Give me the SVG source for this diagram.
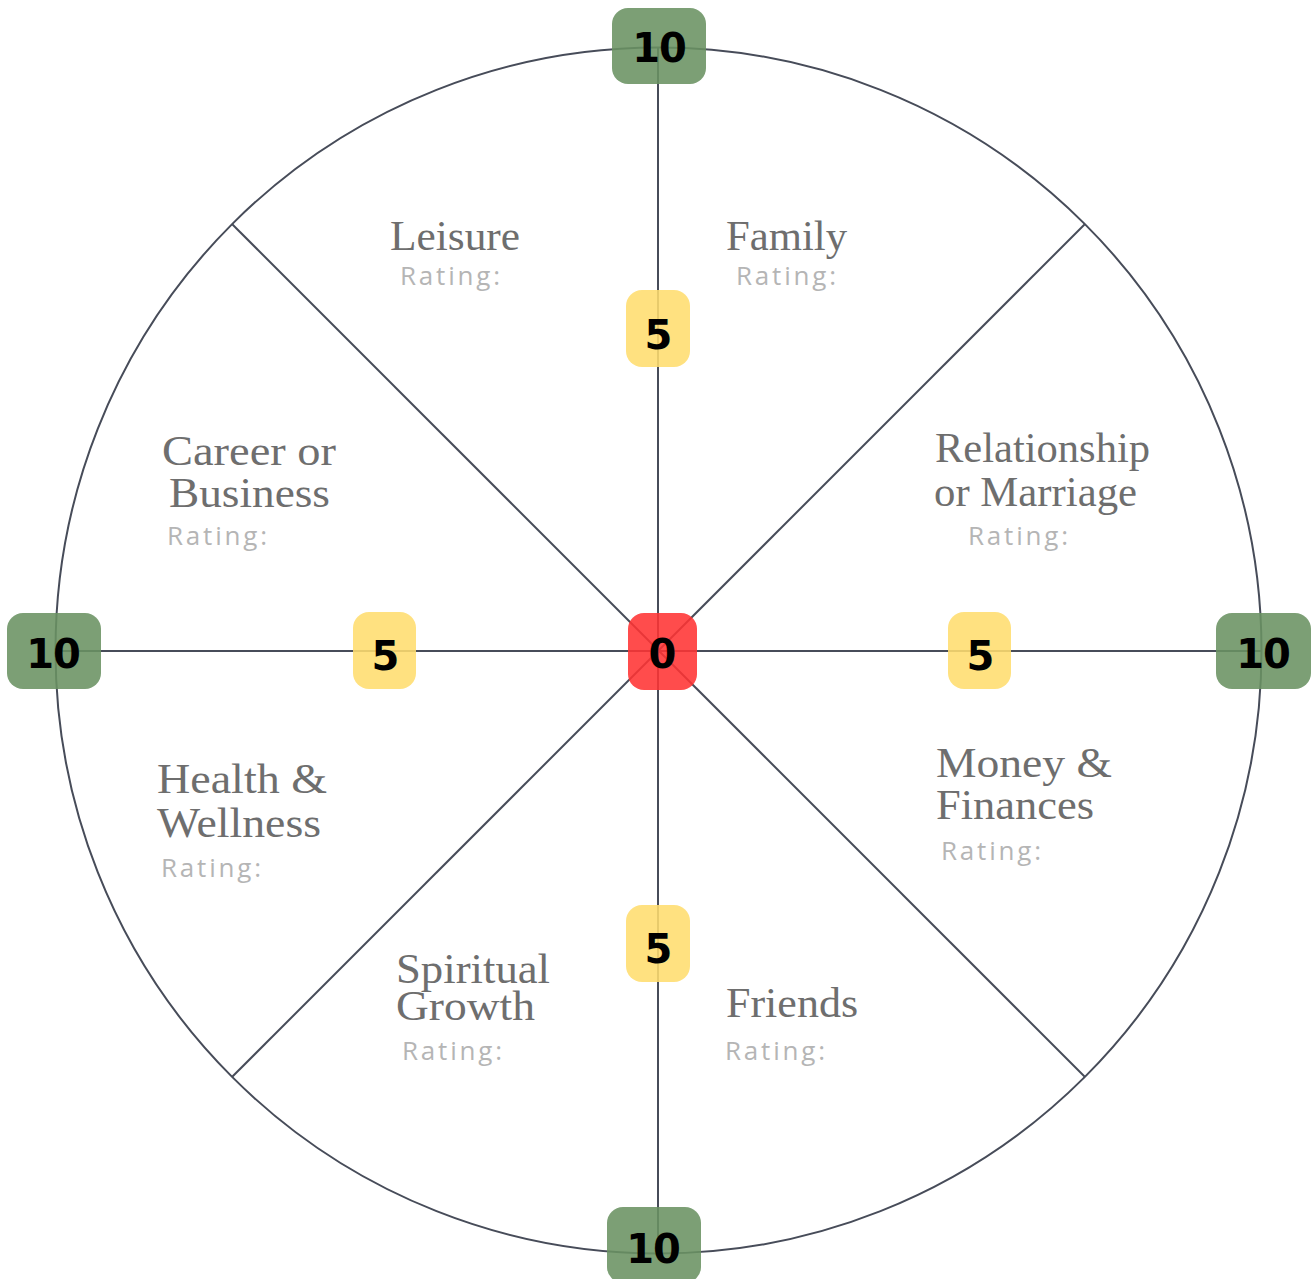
<svg xmlns="http://www.w3.org/2000/svg" width="1314" height="1279" viewBox="0 0 1314 1279">
  <style>
    .ln { stroke: #474c59; stroke-width: 2; fill: none; }
    .green { fill: #6a9262; fill-opacity: 0.88; }
    .yellow { fill: #ffdd6e; fill-opacity: 0.88; }
    .red { fill: #ff3333; fill-opacity: 0.88; }
    .num { font-family: "DejaVu Sans", "Liberation Sans", sans-serif; font-weight: 900; font-size: 40px; fill: #000; text-anchor: middle; letter-spacing: -1px; }
    .title { font-family: "Liberation Serif", "DejaVu Serif", serif; font-size: 43px; fill: #6e6e6e; }
    .rating { font-family: "Open Sans", "Lato", sans-serif; font-size: 26px; fill: #b5b5b5; letter-spacing: 2.8px; }
  </style>
  <rect width="1314" height="1279" fill="#ffffff"/>
  <g id="connectors">
    <circle class="ln" cx="658.5" cy="650.5" r="603"/>
    <line class="ln" x1="658" y1="47" x2="658" y2="1253"/>
    <line class="ln" x1="55" y1="651" x2="1262" y2="651"/>
    <line class="ln" x1="232" y1="224" x2="1085" y2="1077"/>
    <line class="ln" x1="1085" y1="224" x2="232" y2="1077"/>
  </g>
  <g id="labels">
    <g id="leisure">
      <text class="title" x="390" y="250" textLength="130" lengthAdjust="spacingAndGlyphs">Leisure</text>
      <text class="rating" x="400" y="285">Rating:</text>
    </g>
    <g id="family">
      <text class="title" x="726" y="250" textLength="121" lengthAdjust="spacingAndGlyphs">Family</text>
      <text class="rating" x="736" y="285">Rating:</text>
    </g>
    <g id="career">
      <text class="title" x="162" y="465" textLength="174" lengthAdjust="spacingAndGlyphs">Career or</text>
      <text class="title" x="169" y="507" textLength="161" lengthAdjust="spacingAndGlyphs">Business</text>
      <text class="rating" x="167" y="545">Rating:</text>
    </g>
    <g id="relationship">
      <text class="title" x="935" y="462" textLength="215" lengthAdjust="spacingAndGlyphs">Relationship</text>
      <text class="title" x="934" y="506" textLength="203" lengthAdjust="spacingAndGlyphs">or Marriage</text>
      <text class="rating" x="968" y="545">Rating:</text>
    </g>
    <g id="health">
      <text class="title" x="157" y="793" textLength="170" lengthAdjust="spacingAndGlyphs">Health &amp;</text>
      <text class="title" x="157" y="837" textLength="164" lengthAdjust="spacingAndGlyphs">Wellness</text>
      <text class="rating" x="161" y="877">Rating:</text>
    </g>
    <g id="money">
      <text class="title" x="936" y="777" textLength="176" lengthAdjust="spacingAndGlyphs">Money &amp;</text>
      <text class="title" x="936" y="819" textLength="158" lengthAdjust="spacingAndGlyphs">Finances</text>
      <text class="rating" x="941" y="860">Rating:</text>
    </g>
    <g id="spiritual">
      <text class="title" x="396" y="983" textLength="154" lengthAdjust="spacingAndGlyphs">Spiritual</text>
      <text class="title" x="396" y="1020" textLength="139" lengthAdjust="spacingAndGlyphs">Growth</text>
      <text class="rating" x="402" y="1060">Rating:</text>
    </g>
    <g id="friends">
      <text class="title" x="726" y="1017" textLength="132" lengthAdjust="spacingAndGlyphs">Friends</text>
      <text class="rating" x="725" y="1060">Rating:</text>
    </g>
  </g>
  <g id="badge-top-10">
    <rect class="green" x="612" y="8" width="94" height="76" rx="16"/>
    <text class="num" x="659" y="62">10</text>
  </g>
  <g id="badge-left-10">
    <rect class="green" x="7" y="613" width="94" height="76" rx="16"/>
    <text class="num" x="53" y="668">10</text>
  </g>
  <g id="badge-right-10">
    <rect class="green" x="1216" y="613" width="95" height="76" rx="16"/>
    <text class="num" x="1263" y="668">10</text>
  </g>
  <g id="badge-bottom-10">
    <rect class="green" x="607" y="1207" width="94" height="76" rx="16"/>
    <text class="num" x="653" y="1263">10</text>
  </g>
  <g id="badge-top-5">
    <rect class="yellow" x="626" y="290" width="64" height="77" rx="16"/>
    <text class="num" x="658" y="349">5</text>
  </g>
  <g id="badge-left-5">
    <rect class="yellow" x="353" y="612" width="63" height="77" rx="16"/>
    <text class="num" x="385" y="670">5</text>
  </g>
  <g id="badge-right-5">
    <rect class="yellow" x="948" y="612" width="63" height="77" rx="16"/>
    <text class="num" x="980" y="670">5</text>
  </g>
  <g id="badge-bottom-5">
    <rect class="yellow" x="626" y="905" width="64" height="77" rx="16"/>
    <text class="num" x="658" y="963">5</text>
  </g>
  <g id="badge-center-0">
    <rect class="red" x="628" y="613" width="69" height="77" rx="16"/>
    <text class="num" x="662" y="668">0</text>
  </g>
</svg>
